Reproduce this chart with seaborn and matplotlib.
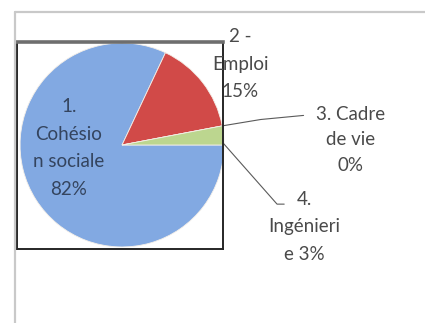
import matplotlib
matplotlib.use("Agg")
import matplotlib.pyplot as plt
from matplotlib.lines import Line2D
import numpy as np
import seaborn as sns

# Share of actions by theme
categories = ["1. Cohésion sociale", "2 - Emploi", "3. Cadre de vie", "4. Ingénierie"]
values = [82, 15, 0, 3]
label_texts = ["1.\nCohésio\nn sociale\n82%", "2 -\nEmploi\n15%", "3. Cadre\nde vie\n0%", "4.\nIngénieri\ne 3%"]
colors = ["#82a9e2", "#d14a48", "#f2e6d8", "#bcd68f"]

sns.set_theme(style="white")
plt.rcParams["font.family"] = ["Lato", "DejaVu Sans"]

fig = plt.figure(figsize=(4.25, 3.23), dpi=100)
W, H = 425, 323

def fx(px):
    return px / W

def fy(py):
    return 1 - py / H

# outer chart frame (top and left edges)
frame_col = "#c9c9c9"
fig.add_artist(Line2D([fx(15), 1.0], [fy(12), fy(12)], color=frame_col, lw=1.6))
fig.add_artist(Line2D([fx(15), fx(15)], [fy(12), 0.0], color=frame_col, lw=1.6))

# plot area holding the pie
ax = fig.add_axes([fx(17), fy(249), fx(223) - fx(17), fy(42) - fy(249)])
wedges, _ = ax.pie(values, colors=colors, startangle=0, counterclock=False,
                   radius=1.0, wedgeprops=dict(edgecolor="#f4efe8", linewidth=0.6))
ax.set_frame_on(True)
ax.set_xlim(-1.03, 0.99)
ax.set_ylim(-1.02, 1.01)
ax.set_aspect("auto")
for side in ["left", "right", "bottom"]:
    ax.spines[side].set_visible(True)
    ax.spines[side].set_color("#262626")
    ax.spines[side].set_linewidth(1.4)
ax.spines["top"].set_visible(True)
ax.spines["top"].set_color("#6e6e6e")
ax.spines["top"].set_linewidth(2.6)

txt_col = "#4a4a4a"
fs = 13.5
ls = 1.75

# label for the largest slice, inside the pie
ax.text(-0.52, -0.03, label_texts[0], ha="center", va="center", fontsize=fs,
        color="#34445e", linespacing=ls)

# label for the second slice, just outside the plot area
ax.text(1.16, 0.79, label_texts[1], ha="center", va="center", fontsize=fs,
        color=txt_col, linespacing=ls, clip_on=False)

def edge_point(i):
    ang = np.deg2rad((wedges[i].theta1 + wedges[i].theta2) / 2)
    return np.cos(ang), np.sin(ang)

lead_col = "#5a5a5a"

# small slices: leader line from the slice edge to the label
x3, y3 = edge_point(2)
ax.plot([x3, 1.36, 1.78], [y3, 0.25, 0.29], color=lead_col, lw=0.8, clip_on=False)
ax.text(2.24, 0.05, label_texts[2], ha="center", va="center", fontsize=fs,
        color=txt_col, linespacing=1.6, clip_on=False)

x4, y4 = edge_point(3)
ax.plot([x4, 1.52, 1.59], [y4 - 0.08, -0.58, -0.58], color=lead_col, lw=0.8, clip_on=False)
ax.text(1.79, -0.80, label_texts[3], ha="center", va="center", fontsize=fs,
        color=txt_col, linespacing=ls, clip_on=False)

fig.savefig("out.png", dpi=100)
